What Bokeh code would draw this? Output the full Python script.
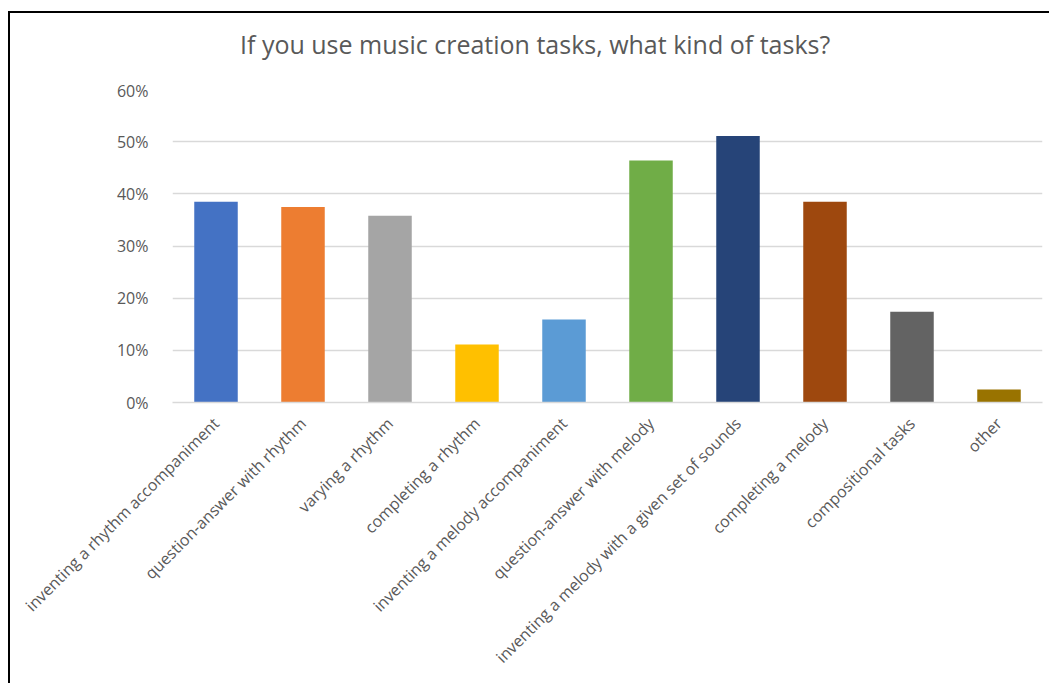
from bokeh.plotting import figure
from bokeh.models import ColumnDataSource, FactorRange, NumeralTickFormatter, Range1d, Div
from bokeh.layouts import column
from bokeh.embed import file_html
from bokeh.resources import INLINE
import math

categories = [
    "inventing a rhythm accompaniment",
    "question-answer with rhythm",
    "varying a rhythm",
    "completing a rhythm",
    "inventing a melody accompaniment",
    "question-answer with melody",
    "inventing a melody with a given set of sounds",
    "completing a melody",
    "compositional tasks",
    "other",
]
values = [0.385, 0.375, 0.358, 0.111, 0.159, 0.464, 0.511, 0.385, 0.174, 0.025]
colors = ["#4472C4", "#ED7D31", "#A5A5A5", "#FFC000", "#5B9BD5",
          "#70AD47", "#264478", "#9E480E", "#636363", "#997300"]
y_ticks = [0, 0.1, 0.2, 0.3, 0.4, 0.5, 0.6]
title_text = "If you use music creation tasks, what kind of tasks?"

source = ColumnDataSource(dict(cat=categories, val=values, color=colors))

FONT = "Open Sans"
TXT = "#595959"

title_div = Div(
    text=('<div style="font-family:\'Open Sans\';font-size:25px;color:#595959;'
          'line-height:34px;margin:0;padding:0;white-space:nowrap;">'
          + title_text + '</div>'),
    width=1039, height=66, margin=(14, 0, 0, 230 - 0),
)
title_div.height = 52
title_div.width = 800

p = figure(
    width=1039, height=604,
    x_range=FactorRange(*categories, range_padding=0),
    y_range=Range1d(0, 0.6),
    output_backend="svg", toolbar_location=None,
    min_border_left=162, min_border_right=7, min_border_top=10, min_border_bottom=281,
    margin=(0, 0, 0, 0),
)
p.outline_line_color = None

p.vbar(x="cat", top="val", width=0.5, fill_color="color", line_color=None, source=source)

p.xgrid.grid_line_color = None
p.ygrid.grid_line_color = "#d9d9d9"
p.ygrid.grid_line_width = 1.5
p.yaxis.ticker = y_ticks
p.yaxis.formatter = NumeralTickFormatter(format="0%")
p.yaxis.axis_line_color = None
p.yaxis.major_tick_line_color = None
p.yaxis.minor_tick_line_color = None
p.yaxis.major_label_standoff = 18
p.yaxis.major_label_text_font = FONT
p.yaxis.major_label_text_font_size = "16px"
p.yaxis.major_label_text_color = TXT

p.xaxis.axis_line_color = "#d9d9d9"
p.xaxis.axis_line_width = 1.5
p.xaxis.major_tick_line_color = None
p.xaxis.minor_tick_line_color = None
p.xaxis.major_label_orientation = math.pi / 4
p.xaxis.major_label_standoff = 12
p.xaxis.major_label_text_font = FONT
p.xaxis.major_label_text_font_size = "16px"
p.xaxis.major_label_text_color = TXT

layout = column(title_div, p, spacing=0, margin=(11, 0, 0, 8))
layout.styles = {"border-left": "2px solid #000", "border-top": "2px solid #000"}

open("out.html", "w").write(file_html(layout, INLINE))
